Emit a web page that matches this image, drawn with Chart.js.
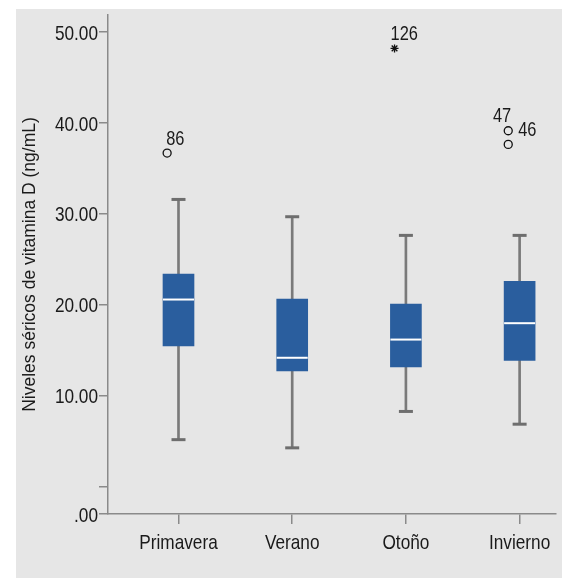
<!DOCTYPE html>
<html>
<head>
<meta charset="utf-8">
<script src="https://cdn.jsdelivr.net/npm/chart.js@4/dist/chart.umd.min.js"></script>
<style>
  html, body { margin: 0; padding: 0; background: #fff; }
  #wrap { width: 562px; height: 578px; }
</style>
</head>
<body>
<div id="wrap"><canvas id="box-chart" width="562" height="578"></canvas></div>
<script>
// data
var seasons = ['Primavera', 'Verano', 'Otoño', 'Invierno'];
var whiskerLow = [5.2, 4.3, 8.3, 6.9];
var q1 = [15.5, 12.75, 13.2, 13.9];
var median = [20.6, 14.2, 16.2, 18.0];
var q3 = [23.4, 20.65, 20.1, 22.6];
var whiskerHigh = [31.6, 29.7, 27.65, 27.65];
var outlierSeason = [0, 2, 3, 3];
var outlierValue = [36.7, 48.2, 39.15, 37.65];
var outlierCase = ['86', '126', '47', '46'];
var outlierKind = ['circle', 'star', 'circle', 'circle'];
var yTicks = [0, 10, 20, 30, 40, 50];

// styles
var boxColor = '#2a5e9e';
var lineGray = '#7a7a7a';
var axisGray = '#8a8a8a';
var textColor = '#1a1a1a';
var sans = "'Liberation Sans', Arial, sans-serif";
var squeeze = 0.82; // the original uses a narrow face, none is installed
var outlierShift = -0.1;
var labelOffsets = [[-1, -8, 'left'], [-4, -8, 'left'], [3, -9, 'right'], [10, -8, 'left']];

var xMin = -0.62, xMax = 3.32;
var yMin = -2.97, yMax = 51.87;

var pts = function (vals) {
  return vals.map(function (v, i) { return { x: i, y: v }; });
};

var narrowText = function (ctx, text, x, y, align) {
  ctx.save();
  ctx.translate(x, y);
  ctx.scale(squeeze, 1);
  ctx.textAlign = align;
  ctx.textBaseline = 'alphabetic';
  ctx.fillText(text, 0, 0);
  ctx.restore();
};

var yLabel = function (value) {
  if (value === yMin) return '.00';
  if (value === 0) return '';
  return value.toFixed(2);
};

var background = {
  id: 'background',
  beforeDraw: function (chart) {
    var ctx = chart.ctx;
    ctx.save();
    ctx.fillStyle = '#ffffff';
    ctx.fillRect(0, 0, chart.width, chart.height);
    ctx.fillStyle = '#e6e6e6';
    ctx.fillRect(16, 9, chart.width - 16, chart.height - 9);
    ctx.restore();
  }
};

var labels = {
  id: 'labels',
  afterDraw: function (chart) {
    var ctx = chart.ctx;
    var xs = chart.scales.x, ys = chart.scales.y;
    ctx.save();
    ctx.fillStyle = textColor;
    ctx.font = '21px ' + sans;
    ys.ticks.forEach(function (t) {
      narrowText(ctx, yLabel(t.value), chart.chartArea.left - 10, ys.getPixelForValue(t.value) + 7.5, 'right');
    });
    xs.ticks.forEach(function (t) {
      narrowText(ctx, seasons[t.value], xs.getPixelForValue(t.value), chart.chartArea.bottom + 35, 'center');
    });
    ctx.font = '20px ' + sans;
    chart.getDatasetMeta(5).data.forEach(function (el, i) {
      var off = labelOffsets[i];
      narrowText(ctx, outlierCase[i], el.x + off[0], el.y + off[1], off[2]);
    });
    ctx.restore();
  }
};

var chart = new Chart(document.getElementById('box-chart'), {
  type: 'bar',
  data: {
    datasets: [{
      // whiskers
      data: seasons.map(function (s, i) { return { x: i, y: [whiskerLow[i], whiskerHigh[i]] }; }),
      backgroundColor: lineGray,
      barThickness: 2,
      grouped: false,
      order: 6
    }, {
      // boxes
      data: seasons.map(function (s, i) { return { x: i, y: [q1[i], q3[i]] }; }),
      backgroundColor: boxColor,
      borderWidth: 0,
      barThickness: 31,
      grouped: false,
      order: 5
    }, {
      type: 'scatter',
      data: pts(median),
      pointStyle: 'line',
      pointRadius: 15.5,
      borderColor: '#ffffff',
      pointBorderWidth: 2,
      order: 4
    }, {
      type: 'scatter',
      data: pts(whiskerLow),
      pointStyle: 'line',
      pointRadius: 7,
      borderColor: '#6e6e6e',
      pointBorderWidth: 3,
      order: 3
    }, {
      type: 'scatter',
      data: pts(whiskerHigh),
      pointStyle: 'line',
      pointRadius: 7,
      borderColor: '#6e6e6e',
      pointBorderWidth: 3,
      order: 2
    }, {
      type: 'scatter',
      data: outlierValue.map(function (v, i) { return { x: outlierSeason[i] + outlierShift, y: v }; }),
      pointStyle: outlierKind.map(function (k) { return k === 'star' ? 'star' : 'circle'; }),
      pointRadius: outlierKind.map(function (k) { return k === 'star' ? 4 : 4; }),
      borderColor: '#111111',
      backgroundColor: 'rgba(0,0,0,0)',
      pointBorderWidth: 1.3,
      order: 1
    }]
  },
  options: {
    responsive: false,
    animation: false,
    events: [],
    layout: {
      autoPadding: false,
      padding: { left: 0, top: 15, right: 6, bottom: 0 }
    },
    plugins: {
      legend: { display: false },
      tooltip: { enabled: false }
    },
    scales: {
      x: {
        type: 'linear',
        min: xMin,
        max: xMax,
        offset: false,
        afterBuildTicks: function (scale) {
          scale.ticks = seasons.map(function (s, i) { return { value: i }; });
        },
        afterFit: function (scale) {
          scale.height = 64;
          scale.paddingLeft = 0;
          scale.paddingRight = 0;
        },
        grid: {
          offset: false,
          drawOnChartArea: false,
          drawTicks: true,
          tickLength: 10,
          color: axisGray,
          lineWidth: 1.5
        },
        border: { color: axisGray, width: 1.5 },
        ticks: { display: false, autoSkip: false }
      },
      y: {
        min: yMin,
        max: yMax,
        afterBuildTicks: function (scale) {
          scale.ticks = [{ value: yMin }].concat(yTicks.map(function (v) { return { value: v }; }));
        },
        afterFit: function (scale) {
          scale.width = 108;
          scale.paddingTop = 0;
          scale.paddingBottom = 0;
        },
        grid: {
          drawOnChartArea: false,
          drawTicks: true,
          tickLength: 9,
          color: axisGray,
          lineWidth: 1.5
        },
        border: { color: axisGray, width: 1.5 },
        ticks: { display: false, autoSkip: false },
        title: {
          display: true,
          text: 'Niveles séricos de vitamina D (ng/mL)',
          color: textColor,
          font: { family: sans, size: 17.5 },
          padding: { top: 20, bottom: 0 }
        }
      }
    }
  },
  plugins: [background, labels]
});
</script>
</body>
</html>
